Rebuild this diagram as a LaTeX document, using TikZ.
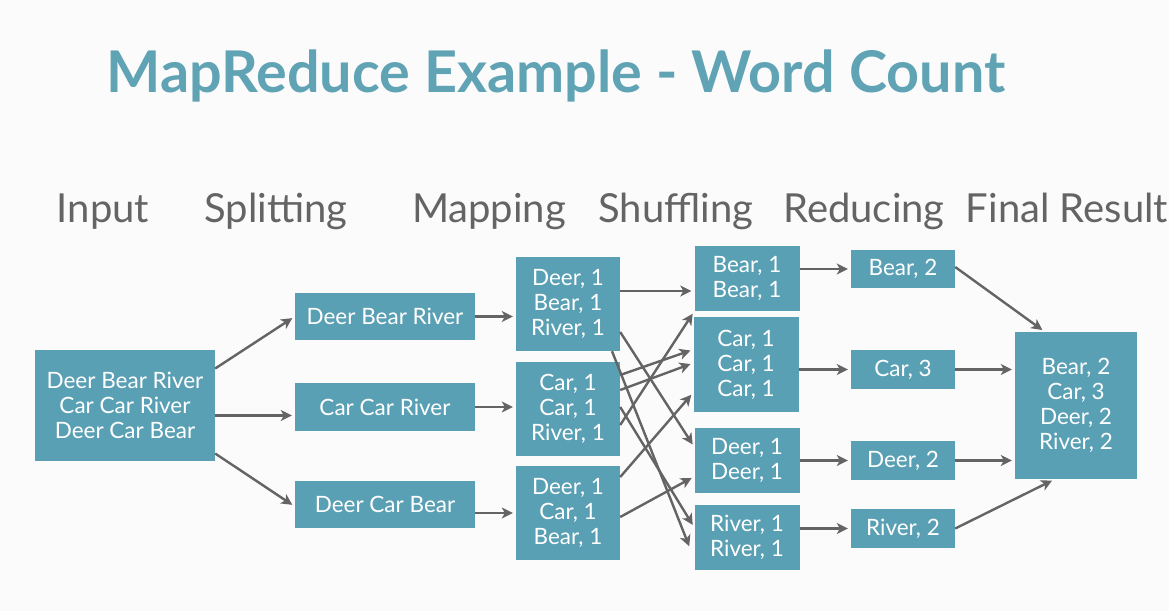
\documentclass[tikz,border=0pt]{standalone}
\usepackage{fontspec}
\setmainfont{Lato}
\usetikzlibrary{arrows.meta,positioning}
\definecolor{mrTeal}{RGB}{90,160,180}
\definecolor{mrTitle}{RGB}{95,163,181}
\definecolor{mrGray}{RGB}{100,100,100}
\definecolor{mrBack}{RGB}{251,251,251}

\begin{document}
\begin{tikzpicture}[x=1pt,y=-1pt,
      blk/.style={fill=mrTeal,text=white,align=center,inner sep=0pt,
                  minimum width=104pt,font=\fontsize{22.5}{25}\selectfont},
      hdr/.style={anchor=base,text=mrGray,font=\fontsize{40}{44}\selectfont},
      arr/.style={-{Stealth[length=11pt,width=11pt,inset=3pt]},draw=mrGray,
                  line width=2.4pt,shorten >=3pt}]
    \fill[mrBack] (0,0) rectangle (1169,611);
    \useasboundingbox (0,0) rectangle (1169,611);
    % title and column heads
    \node[anchor=base,text=mrTitle,font=\fontsize{57.5}{60}\selectfont\bfseries] (title) at (556,92) {MapReduce Example - Word Count};
    \node[hdr] (hIn) at (103,222) {Input};
    \node[hdr] (hSp) at (276,222) {Splitting};
    \node[hdr] (hMp) at (489,222) {Mapping};
    \node[hdr] (hSh) at (676,222) {Shuffling};
    \node[hdr] (hRd) at (864,222) {Reducing};
    \node[hdr] (hFin) at (1067,222) {Final Result};
    % boxes
    \node[blk,minimum width=180pt,minimum height=111pt] (in) at (125,405.5) {Deer Bear River\\ Car Car River\\ Deer Car Bear};
    \node[blk,minimum width=180pt,minimum height=47pt] (sp1) at (385,316.5) {Deer Bear River};
    \node[blk,minimum width=180pt,minimum height=48pt] (sp2) at (385,407) {Car Car River};
    \node[blk,minimum width=180pt,minimum height=47pt] (sp3) at (385,504.5) {Deer Car Bear};
    \node[blk,minimum height=94pt] (mp1) at (568,304) {Deer, 1\\ Bear, 1\\ River, 1};
    \node[blk,minimum height=94pt] (mp2) at (568,409) {Car, 1\\ Car, 1\\ River, 1};
    \node[blk,minimum height=94pt] (mp3) at (568,513) {Deer, 1\\ Car, 1\\ Bear, 1};
    \node[blk,minimum width=105pt,minimum height=65pt] (sh1) at (747,278.5) {Bear, 1\\ Bear, 1};
    \node[blk,minimum width=105pt,minimum height=95pt] (sh2) at (746,364.5) {Car, 1\\ Car, 1\\ Car, 1};
    \node[blk,minimum width=105pt,minimum height=65pt] (sh3) at (747,460.5) {Deer, 1\\ Deer, 1};
    \node[blk,minimum width=105pt,minimum height=65pt] (sh4) at (747,537.5) {River, 1\\ River, 1};
    \node[blk,minimum height=38pt] (rd1) at (903,269) {Bear, 2};
    \node[blk,minimum height=39pt] (rd2) at (903,369.5) {Car, 3};
    \node[blk,minimum height=39pt] (rd3) at (903,460.5) {Deer, 2};
    \node[blk,minimum height=39pt] (rd4) at (903,528.5) {River, 2};
    \node[blk,minimum width=122pt,minimum height=147pt] (fin) at (1076,405.5) {Bear, 2\\ Car, 3\\ Deer, 2\\ River, 2};
    % input -> splitting
    \draw[arr] ([yshift=37pt]in.east) -- (sp1.west);
    \draw[arr] ([yshift=-10pt]in.east) -- ([yshift=-10pt]in.east -| sp2.west);
    \draw[arr] ([yshift=-48pt]in.east) -- ([yshift=-2pt]sp3.west);
    % splitting -> mapping
    \draw[arr] (sp1.east) -- (sp1.east -| mp1.west);
    \draw[arr] (sp2.east) -- (sp2.east -| mp2.west);
    \draw[arr] (sp3.east |- mp3.west) -- (mp3.west);
    % mapping -> shuffling
    \draw[arr] ([yshift=13pt]mp1.east) -- ([yshift=13pt]mp1.east -| sh1.west);
    \draw[arr] ([yshift=-28pt]mp1.east) -- ([yshift=13.5pt]sh3.west);
    \draw[arr] ([xshift=44pt]mp1.south) -- ([yshift=-11.5pt,xshift=-4pt]sh4.west);
    \draw[arr] ([yshift=34pt]mp2.east) -- ([yshift=15pt]sh2.west);
    \draw[arr] ([yshift=19pt]mp2.east) -- ([yshift=1.5pt]sh2.west);
    \draw[arr] ([yshift=-16pt]mp2.east) -- (sh1.south west);
    \draw[arr] ([yshift=2pt]mp2.east) -- ([yshift=10pt]sh4.west);
    \draw[arr] ([yshift=36pt]mp3.east) -- ([yshift=-28pt]sh2.west);
    \draw[arr] ([yshift=-4pt]mp3.east) -- ([yshift=-16pt]sh3.west);
    % shuffling -> reducing
    \foreach \i/\j in {1/1,2/2,3/3,4/4}
      \draw[arr] (rd\j.west -| sh\i.east) -- (rd\j.west);
    % reducing -> final result
    \draw[arr] ([yshift=2pt]rd1.east) -- ([xshift=30pt]fin.north west);
    \draw[arr] (rd2.east) -- (rd2.east -| fin.west);
    \draw[arr] (rd3.east) -- (rd3.east -| fin.west);
    \draw[arr] (rd4.east) -- ([xshift=40pt]fin.south west);
  \end{tikzpicture}
\end{document}
